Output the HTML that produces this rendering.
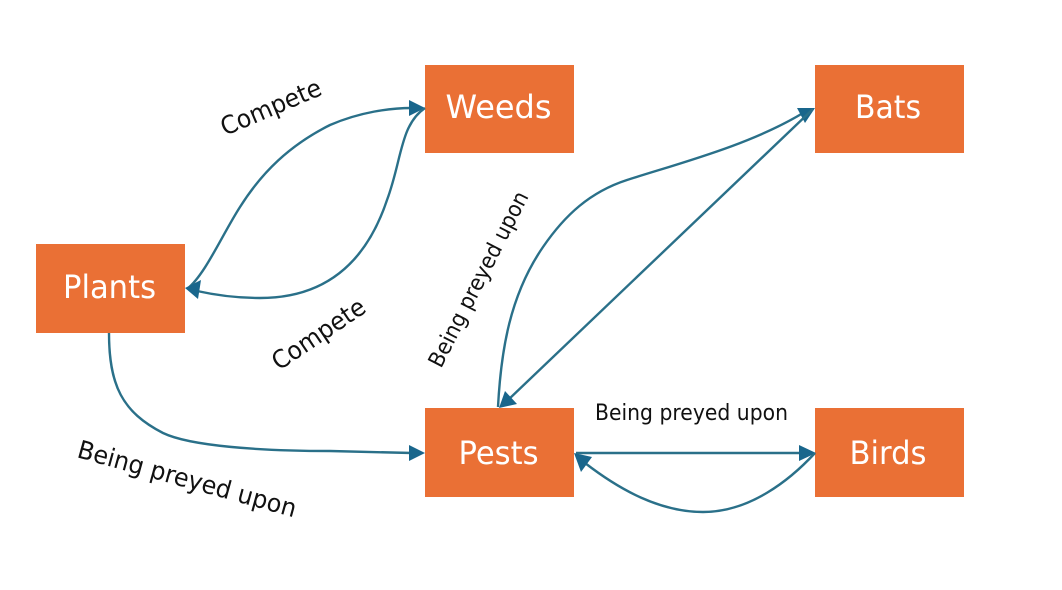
<!DOCTYPE html>
<html>
<head>
<meta charset="utf-8">
<style>
html,body{margin:0;padding:0;background:#fff;width:1062px;height:590px;overflow:hidden}
svg{display:block}
text{font-family:"DejaVu Sans","Liberation Sans",sans-serif}
.n{fill:#fff;font-size:32px;text-anchor:middle}
.l{fill:#111;font-size:25px}
.m{fill:#111;font-size:22px}
.c{fill:none;stroke:#2a7089;stroke-width:2.4}
.a{fill:#19668c}
.b{fill:#ea7035}
</style>
</head>
<body>
<svg width="1062" height="590" viewBox="0 0 1062 590" xmlns="http://www.w3.org/2000/svg">
<rect width="1062" height="590" fill="#fff"/>

<rect class="b" x="36" y="244" width="149" height="89"/>
<rect class="b" x="425" y="65" width="149" height="88"/>
<rect class="b" x="815" y="65" width="149" height="88"/>
<rect class="b" x="425" y="408" width="149" height="89"/>
<rect class="b" x="815" y="408" width="149" height="89"/>

<text class="n" x="109.500" y="298" textLength="93" lengthAdjust="spacingAndGlyphs">Plants</text>
<text class="n" x="498.500" y="118" textLength="106" lengthAdjust="spacingAndGlyphs">Weeds</text>
<text class="n" x="888" y="118" textLength="66" lengthAdjust="spacingAndGlyphs">Bats</text>
<text class="n" x="498.500" y="464" textLength="80" lengthAdjust="spacingAndGlyphs">Pests</text>
<text class="n" x="888" y="464" textLength="77" lengthAdjust="spacingAndGlyphs">Birds</text>

<!-- Plants / Weeds upper -->
<path class="c" d="M187,289 C205,275 222,235 240,207 C262,172 290,145 330,125 C360,112 390,108 412,108"/>
<polygon class="a" points="425,108 409,100 409,116"/>
<!-- Plants / Weeds lower -->
<path class="c" d="M425,108 C400,125 402,160 387,200 C372,245 340,298 260,298 C235,298 215,295 197,291"/>
<polygon class="a" points="185,288 201,280 198,299"/>
<!-- Plants to Pests -->
<path class="c" d="M109,333 C109,385 122,412 163,433 C190,446 260,451 330,451 L412,453"/>
<polygon class="a" points="425,453 409,445 409,461"/>
<!-- Pests / Bats curve -->
<path class="c" d="M498,407 C501,350 510,295 543,247 C565,215 590,192 627,180 C680,163 750,145 803,113"/>
<polygon class="a" points="815,108 797,108 805,123"/>
<!-- Pests / Bats line -->
<path class="c" d="M813,109 L508,400"/>
<polygon class="a" points="499,408 505,391 517,404"/>
<!-- Pests / Birds line -->
<path class="c" d="M576,453 L803,453"/>
<polygon class="a" points="816,453 799,445 799,461"/>
<!-- Pests / Birds curve -->
<path class="c" d="M815,453 C790,480 750,512 703,512 C660,512 620,490 585,463"/>
<polygon class="a" points="574,453 592,457 581,472"/>

<text class="l" transform="translate(225,136) rotate(-23)" textLength="107" lengthAdjust="spacingAndGlyphs">Compete</text>
<text class="l" transform="translate(279,371) rotate(-34)" textLength="107" lengthAdjust="spacingAndGlyphs">Compete</text>
<text class="l" transform="translate(76,457) rotate(15.500)" textLength="226" lengthAdjust="spacingAndGlyphs">Being preyed upon</text>
<text class="m" transform="translate(441,369) rotate(-63)" textLength="194" lengthAdjust="spacingAndGlyphs">Being preyed upon</text>
<text class="m" x="595" y="420" textLength="193" lengthAdjust="spacingAndGlyphs">Being preyed upon</text>
</svg>
</body>
</html>
